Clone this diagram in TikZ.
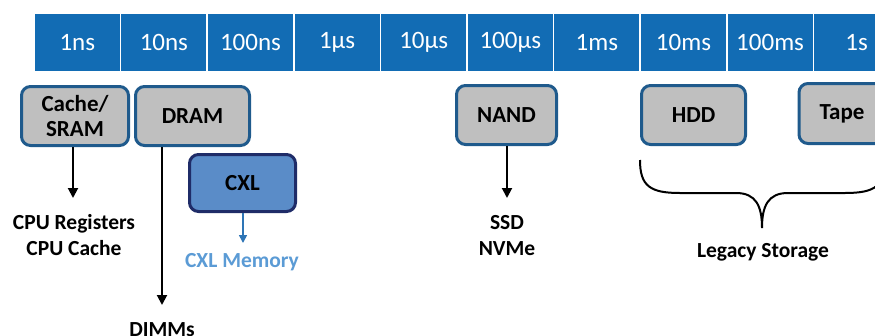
\documentclass[tikz,border=0pt]{standalone}
\usepackage{fontspec}
\setmainfont{Carlito}
\usetikzlibrary{arrows.meta,calc}
\definecolor{tlblue}{HTML}{126CB4}
\definecolor{boxgray}{HTML}{BFBFBF}
\definecolor{boxedge}{HTML}{1F5A8C}
\definecolor{cxlfill}{HTML}{5A8CC8}
\definecolor{cxledge}{HTML}{1F2C68}
\definecolor{cxlarrow}{HTML}{2E75B6}
\definecolor{cxltext}{HTML}{5B9BD5}
\tikzset{
  cell/.style={fill=tlblue, draw=white, line width=1.5pt, minimum width=86.6pt, minimum height=58pt, inner sep=0pt, text=white, font=\fontsize{25}{29}\selectfont},
  memnode/.style={draw=boxedge, fill=boxgray, line width=3pt, rounded corners=9pt, minimum height=59pt, inner sep=0pt, align=center, font=\fontsize{23}{25}\selectfont\bfseries},
  cxlnode/.style={memnode, draw=cxledge, fill=cxlfill},
  lbl/.style={inner sep=0pt, align=center, font=\fontsize{21.5}{26}\selectfont\bfseries},
  arr/.style={line width=2pt, -{Triangle[width=10pt,length=10pt]}},
  carr/.style={line width=1.6pt, draw=cxlarrow, -{Triangle[width=8pt,length=8pt]}}
}
\begin{document}
\begin{tikzpicture}[x=1pt,y=-1pt]
\useasboundingbox (0,0) rectangle (875,335);
% timeline
\foreach \lab [count=\i from 0] in {1ns,10ns,100ns,1\textmu s,10\textmu s,100\textmu s,1ms,10ms,100ms,1s}{
  \node[cell] (t\i) at ({34+86.6*\i+43.3},42.5) {\lab};
}
% memory nodes
\node[memnode, minimum width=107pt] (cache) at (75,116) {Cache/\\SRAM};
\node[memnode, minimum width=114pt] (dram) at (192.5,116) {DRAM};
\node[cxlnode, minimum width=106pt, minimum height=57pt] (cxl) at (242.5,183) {CXL};
\node[memnode, minimum width=100pt] (nand) at (506.5,115) {NAND};
\node[memnode, minimum width=104pt] (hdd) at (693.5,115) {HDD};
\node[memnode, minimum width=86pt, minimum height=60pt] (tape) at (842,113.5) {Tape};
% labels
\node[lbl] (cpu) at (74,235) {CPU Registers\\CPU Cache};
\node[lbl] (dimms) at (162,330) {DIMMs};
\node[lbl, text=cxltext] (cxlmem) at (242,262) {CXL Memory};
\node[lbl] (ssd) at (507,236) {SSD\\NVMe};
\node[lbl] (legacy) at (763,252) {Legacy Storage};
% arrow ends
\coordinate (cacheend) at (73,198);
\coordinate (dramend) at (162,305);
\coordinate (cxlend) at (243,243);
\coordinate (nandend) at (507,198);
% arrows
\draw[arr] (cache.south -| cacheend) -- (cacheend);
\draw[arr] (dram.south -| dramend) -- (dramend);
\draw[carr] (cxl.south -| cxlend) -- (cxlend);
\draw[arr] (nand.south -| nandend) -- (nandend);
% brace
\draw[line width=2pt] (640,160) .. controls (640,186) and (650,193) .. (680,193) -- (736,193)
  .. controls (756,193) and (762,206) .. (762,228)
  .. controls (762,206) and (768,193) .. (788,193) -- (845,193)
  .. controls (875,193) and (885,186) .. (885,160);
\end{tikzpicture}
\end{document}
